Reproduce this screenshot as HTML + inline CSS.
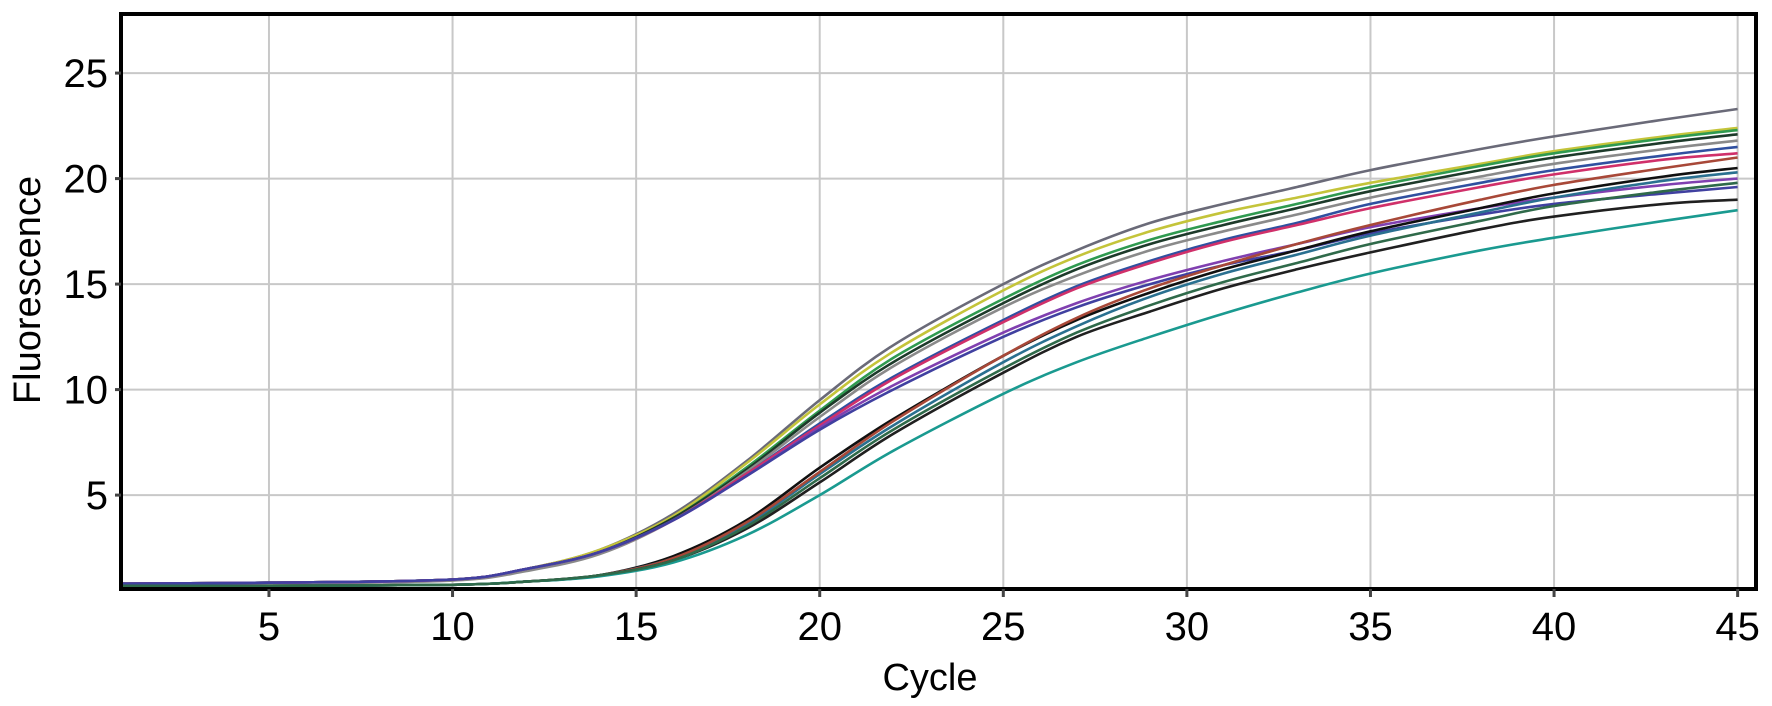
<!DOCTYPE html>
<html><head><meta charset="utf-8"><style>
html,body{margin:0;padding:0;background:#fff;width:1772px;height:706px;overflow:hidden}
svg text{font-family:"Liberation Sans","DejaVu Sans",sans-serif;fill:#000}
</style></head><body>
<svg id="chart" width="1772" height="706" xmlns="http://www.w3.org/2000/svg">
<g id="grid"></g>
<g id="series"></g>
<rect x="121" y="14" width="1635" height="575" fill="none" stroke="#000" stroke-width="4"/>
<g id="ticks"></g>
<text x="930" y="690" font-size="38" text-anchor="middle">Cycle</text>
<text transform="translate(40,290) rotate(-90)" font-size="38" text-anchor="middle">Fluorescence</text>
</svg>
<script>
const cycles = [1,5,10,12,14,16,18,20,22,25,27,29,31,33,35,38,40,43,45];
const xTicks = [5,10,15,20,25,30,35,40,45];
const yTicks = [5,10,15,20,25];
const colors = ["#6a6a78","#c4c43a","#2f9a50","#1d3a2a","#8a8a8a","#3050a0","#d0306a","#8040b0","#4040a0","#101010","#2a7090","#a84838","#202020","#1a9a90","#2f6a4a"];
const s1 = [0.8,0.85,1.0,1.5,2.4,4.1,6.6,9.5,12.1,15.0,16.6,17.9,18.8,19.6,20.4,21.4,22.0,22.8,23.3];
const s2 = [0.8,0.85,1.0,1.5,2.4,4.0,6.5,9.3,11.8,14.7,16.3,17.5,18.4,19.1,19.8,20.7,21.3,22.0,22.4];
const s3 = [0.8,0.85,1.0,1.5,2.3,3.9,6.3,9.0,11.5,14.3,15.9,17.1,18.0,18.8,19.6,20.6,21.2,21.9,22.3];
const s4 = [0.8,0.85,1.0,1.5,2.3,3.9,6.2,8.9,11.3,14.1,15.7,16.9,17.8,18.6,19.4,20.4,21.0,21.7,22.1];
const s5 = [0.75,0.8,0.95,1.4,2.2,3.8,6.1,8.7,11.1,13.9,15.4,16.6,17.5,18.3,19.1,20.1,20.7,21.4,21.8];
const s6 = [0.8,0.85,1.0,1.5,2.3,3.8,6.0,8.4,10.6,13.3,14.9,16.1,17.1,17.9,18.8,19.8,20.4,21.1,21.5];
const s7 = [0.8,0.85,1.0,1.5,2.3,3.8,6.0,8.3,10.5,13.2,14.8,16.0,17.0,17.8,18.6,19.6,20.2,20.9,21.2];
const s8 = [0.8,0.85,1.0,1.5,2.3,3.8,5.9,8.2,10.2,12.7,14.1,15.2,16.1,16.9,17.7,18.6,19.1,19.7,20.0];
const s9 = [0.8,0.85,1.0,1.5,2.3,3.8,5.9,8.1,10.0,12.5,13.9,15.0,15.9,16.6,17.4,18.3,18.8,19.3,19.6];
const l1 = [0.7,0.7,0.75,0.9,1.2,2.1,3.8,6.3,8.6,11.6,13.3,14.6,15.7,16.6,17.5,18.6,19.3,20.1,20.5];
const l2 = [0.7,0.7,0.75,0.9,1.2,2.0,3.6,6.0,8.3,11.3,13.0,14.4,15.5,16.4,17.3,18.4,19.1,19.9,20.3];
const l3 = [0.7,0.7,0.75,0.9,1.2,2.0,3.7,6.1,8.5,11.6,13.4,14.8,15.9,16.9,17.8,19.0,19.7,20.5,21.0];
const l4 = [0.7,0.7,0.75,0.9,1.2,1.9,3.4,5.6,7.9,10.8,12.5,13.7,14.8,15.7,16.5,17.6,18.2,18.8,19.0];
const l5 = [0.7,0.7,0.75,0.9,1.15,1.8,3.1,5.0,7.1,9.8,11.3,12.5,13.6,14.6,15.5,16.6,17.2,18.0,18.5];
const l6 = [0.7,0.7,0.75,0.9,1.2,1.9,3.5,5.8,8.1,11.0,12.7,14.0,15.1,16.0,16.9,18.0,18.7,19.4,19.8];
const seriesList = [s1,s2,s3,s4,s5,s6,s7,s8,s9,l1,l2,l3,l4,l5,l6];

const NS="http://www.w3.org/2000/svg";
const X0=121,X1=1756,Y0=14,Y1=589;
const xmin=0.97,xmax=45.5,ymin=0.55,ymax=27.8;
const xs=c=>X0+(c-xmin)/(xmax-xmin)*(X1-X0);
const ys=v=>Y1-(v-ymin)/(ymax-ymin)*(Y1-Y0);
const grid=document.getElementById('grid'),ticks=document.getElementById('ticks'),sg=document.getElementById('series');
function mk(tag,attrs,parent){const e=document.createElementNS(NS,tag);for(const k in attrs)e.setAttribute(k,attrs[k]);parent.appendChild(e);return e;}
xTicks.forEach(t=>{
  const gl=mk('line',{x1:xs(t),x2:xs(t),y1:Y0,y2:Y1,stroke:'#c8c8c8','stroke-width':2},grid);
  
  
  const tk=mk('line',{x1:xs(t),x2:xs(t),y1:Y1,y2:Y1+8,stroke:'#444','stroke-width':3},ticks);
  
  
  const tx=mk('text',{x:xs(t),y:640,'font-size':40,'text-anchor':'middle'},ticks);
  tx.textContent=t;
  
  
});
yTicks.forEach(t=>{
  const gl=mk('line',{x1:X0,x2:X1,y1:ys(t),y2:ys(t),stroke:'#c8c8c8','stroke-width':2},grid);
  
  
  const tk=mk('line',{x1:X0-6,x2:X0,y1:ys(t),y2:ys(t),stroke:'#444','stroke-width':3},ticks);
  
  
  const tx=mk('text',{x:108,y:ys(t)+14,'font-size':40,'text-anchor':'end'},ticks);
  tx.textContent=t;
  
  
});
function pathFor(vals){
  const p=cycles.map((c,i)=>[xs(c),ys(vals[i])]);
  let d='M'+p[0][0].toFixed(1)+','+p[0][1].toFixed(1);
  for(let i=0;i<p.length-1;i++){
    const a=p[Math.max(0,i-1)],b=p[i],c=p[i+1],e=p[Math.min(p.length-1,i+2)];
    const c1=[b[0]+(c[0]-a[0])/6,b[1]+(c[1]-a[1])/6],c2=[c[0]-(e[0]-b[0])/6,c[1]-(e[1]-b[1])/6];
    d+=' C'+c1[0].toFixed(1)+','+c1[1].toFixed(1)+' '+c2[0].toFixed(1)+','+c2[1].toFixed(1)+' '+c[0].toFixed(1)+','+c[1].toFixed(1);
  }
  return d;
}
seriesList.forEach((vals,i)=>{
  const pth=mk('path',{d:pathFor(vals),fill:'none',stroke:colors[i%colors.length],'stroke-width':2.6},sg);
  
  
});
</script>
</body></html>
